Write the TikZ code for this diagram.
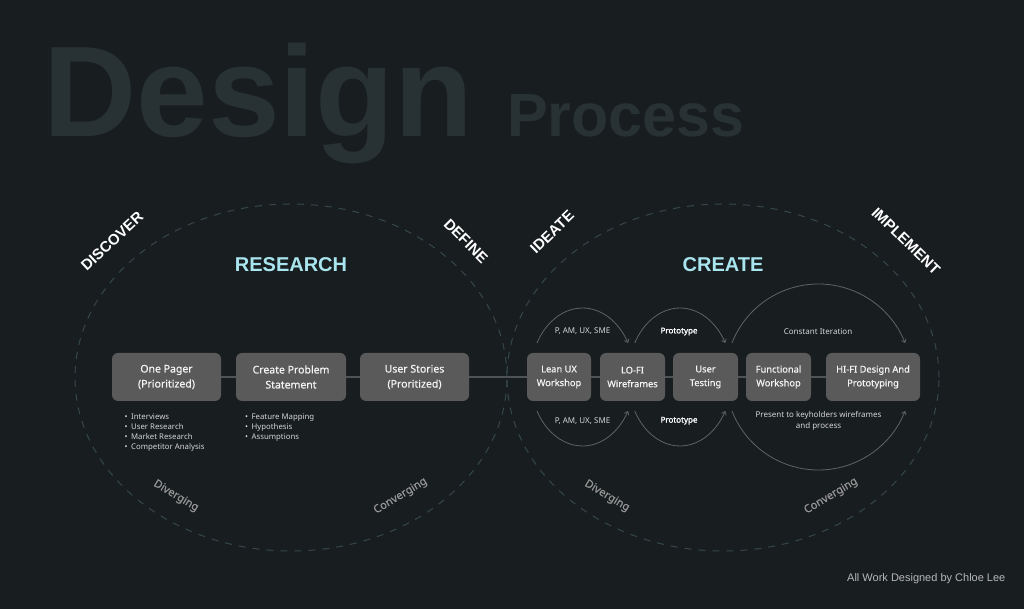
\documentclass[tikz,border=0pt]{standalone}
\usepackage{fontspec}
\setmainfont{Noto Sans}
\newfontfamily\helv{Liberation Sans}
\newfontfamily\medfont[FakeBold=0.6]{Noto Sans}
\newfontfamily\heavyfont[FakeBold=1.6]{Noto Sans}
\usetikzlibrary{arrows.meta}
\definecolor{bg}{HTML}{181D20}
\definecolor{titlec}{HTML}{283133}
\definecolor{ellc}{HTML}{34484A}
\definecolor{cyanc}{HTML}{A9E5EF}
\definecolor{boxfill}{HTML}{5A5A5A}
\definecolor{boxtext}{HTML}{F4F4F4}
\definecolor{linkc}{HTML}{4E5456}
\definecolor{loopc}{HTML}{5E6365}
\definecolor{smallc}{HTML}{D6D6D6}
\definecolor{divc}{HTML}{959595}
\definecolor{footc}{HTML}{B8B8B8}
\begin{document}
\begin{tikzpicture}[x=1pt,y=1pt,
  boxl/.style={fill=boxfill, rounded corners=6pt, minimum height=48pt, inner sep=0pt,
    align=center, text=boxtext, font=\medfont\fontsize{10.5}{15}\selectfont},
  boxr/.style={boxl, font=\medfont\fontsize{9.3}{13.7}\selectfont},
  link/.style={draw=linkc, line width=1.5pt},
  loop/.style={draw=loopc, line width=0.8pt, -{Straight Barb[length=3pt,width=5pt]}},
  phase/.style={font=\helv\bfseries\fontsize{15}{18}\selectfont, text=white, inner sep=0pt},
  group/.style={font=\helv\bfseries\fontsize{20}{24}\selectfont, text=cyanc, inner sep=0pt},
  dashell/.style={draw=ellc, line width=1pt, dash pattern=on 7pt off 7pt},
  motion/.style={font=\medfont\fontsize{11}{13}\selectfont, text=divc, inner sep=0pt},
  arclab/.style={font=\fontsize{8}{10}\selectfont, text=smallc, inner sep=0pt},
  arcbold/.style={arclab, font=\heavyfont\fontsize{8}{10}\selectfont, text=white},
  item/.style={font=\fontsize{7.8}{10}\selectfont, text=smallc, inner sep=0pt, anchor=base west},
]
\useasboundingbox[fill=bg] (0,0) rectangle (1024,609);

% title
\node[anchor=base west, inner sep=0pt, text=titlec, font=\helv\bfseries\fontsize{129}{130}\selectfont] (title) at (43,472) {Design};
\node[anchor=base west, inner sep=0pt, text=titlec, font=\helv\bfseries\fontsize{61}{62}\selectfont] (sub) at (507,472) {Process};

% ellipses
\draw[dashell] (291,231.5) ellipse [x radius=216, y radius=173.5];
\draw[dashell] (723,231.5) ellipse [x radius=216, y radius=173.5];

% phase labels
\node[phase, rotate=43] (discover) at (112,368) {DISCOVER};
\node[phase, rotate=-45] (define) at (466,368) {DEFINE};
\node[phase, rotate=44] (ideate) at (552,377) {IDEATE};
\node[phase, rotate=-44] (implement) at (906,368) {IMPLEMENT};

\node[group] (research) at (291,344.5) {RESEARCH};
\node[group] (create) at (723,344.5) {CREATE};

% boxes
\node[boxl, minimum width=109pt] (b1) at (166.5,232) {One Pager\\(Prioritized)};
\node[boxl, minimum width=110pt] (b2) at (291,232) {Create Problem\\Statement};
\node[boxl, minimum width=109pt] (b3) at (414.5,232) {User Stories\\(Proritized)};
\node[boxr, minimum width=64pt] (b4) at (559,232) {Lean UX\\Workshop};
\node[boxr, minimum width=65pt] (b5) at (632.5,232) {LO-FI\\Wireframes};
\node[boxr, minimum width=65pt] (b6) at (705.5,232) {User\\Testing};
\node[boxr, minimum width=65pt] (b7) at (778.5,232) {Functional\\Workshop};
\node[boxr, minimum width=94pt] (b8) at (873,232) {HI-FI Design And\\Prototyping};

\draw[link] (b1) -- (b2);
\draw[link] (b2) -- (b3);
\draw[link] (b3) -- (b4);
\draw[link] (b4) -- (b5);
\draw[link] (b5) -- (b6);
\draw[link] (b6) -- (b7);
\draw[link] (b7) -- (b8);

% loops
\coordinate (c1) at (582.5,232);
\coordinate (c2) at (680,232);
\coordinate (c3) at (818.5,232);
\draw[loop] ([shift={(150.5:52.3 and 69)}]c1) arc[start angle=150.5, end angle=29.5, x radius=52.3, y radius=69];
\draw[loop] ([shift={(209.5:52.3 and 69)}]c1) arc[start angle=209.5, end angle=330.5, x radius=52.3, y radius=69];
\draw[loop] ([shift={(150.5:52 and 69)}]c2) arc[start angle=150.5, end angle=29.5, x radius=52, y radius=69];
\draw[loop] ([shift={(209.5:52 and 69)}]c2) arc[start angle=209.5, end angle=330.5, x radius=52, y radius=69];
\draw[loop] ([shift={(158.6:93)}]c3) arc[start angle=158.6, end angle=21.4, radius=93];
\draw[loop] ([shift={(201.4:93)}]c3) arc[start angle=201.4, end angle=338.6, radius=93];

\node[arclab] (l1) at (582.5,277.5) {P, AM, UX, SME};
\node[arcbold] (l2) at (679,277.5) {Prototype};
\node[arclab] (l3) at (818,277.5) {Constant Iteration};
\node[arclab] (l4) at (582.5,188.3) {P, AM, UX, SME};
\node[arcbold] (l5) at (679,188.3) {Prototype};
\node[arclab, align=center, font=\fontsize{8}{11}\selectfont] (l6) at (818.5,188) {Present to keyholders wireframes\\and process};

% bullet lists
\foreach \t [count=\i] in {Interviews, User Research, Market Research, Competitor Analysis}
  \node[item] (la\i) at (124.5,189.5-10*\i+10) {•\hspace{3.5pt}\t};
\foreach \t [count=\i] in {Feature Mapping, Hypothesis, Assumptions}
  \node[item] (lb\i) at (245,189.5-10*\i+10) {•\hspace{3.5pt}\t};

% diverging / converging
\node[motion, rotate=-31] (d1) at (176,113) {Diverging};
\node[motion, rotate=31] (c1l) at (400.5,113) {Converging};
\node[motion, rotate=-31] (d2) at (607,113) {Diverging};
\node[motion, rotate=31] (c2l) at (831,113) {Converging};

% footer
\node[anchor=base west, inner sep=0pt, text=footc, font=\helv\fontsize{11}{13}\selectfont] (foot) at (847,27.5) {All Work Designed by Chloe Lee};
\end{tikzpicture}
\end{document}
